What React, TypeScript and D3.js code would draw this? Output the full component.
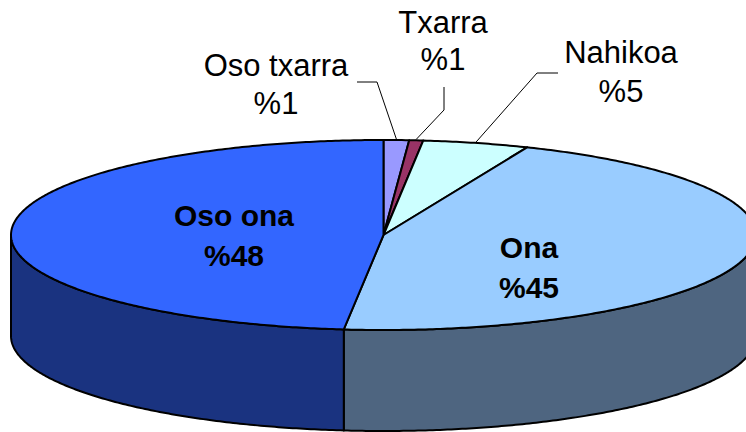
import React from 'react';
import * as d3 from 'd3';

// ---- data ----
const categories = ['Oso txarra', 'Txarra', 'Nahikoa', 'Ona', 'Oso ona'];
const values = [1.1, 0.6, 4.6, 45.4, 48.3];
const valueLabels = ['%1', '%1', '%5', '%45', '%48'];

// ---- styles / layout ----
const topColors = ['#9999FF', '#993366', '#CCFFFF', '#99CCFF', '#3366FF'];
const sideColors = ['#4C4C80', '#4C1933', '#668080', '#4E6580', '#1A3380'];
const W = 746, H = 432;
const cx = 383.5, cy = 235, rx = 372.5, ry = 95, depth = 101;

// label layout: center x, baseline y of first line, line gap, leader polyline start points
const labelLayout = [
  { x: 276, y: 76, gap: 38, bold: false, leader: [[357, 82], [377, 82]] },
  { x: 443, y: 33, gap: 37, bold: false, leader: [[444, 87], [444, 110]] },
  { x: 621, y: 63, gap: 39, bold: false, leader: [[558, 73], [537, 73]] },
  { x: 529, y: 258, gap: 40, bold: true, leader: null },
  { x: 234, y: 226, gap: 40, bold: true, leader: null },
];

const pt = (a: number, dy = 0): [number, number] => [cx + rx * Math.sin(a), cy - ry * Math.cos(a) + dy];

const arcPts = (a0: number, a1: number, dy = 0) => {
  const n = Math.max(2, Math.ceil(Math.abs(a1 - a0) / 0.01));
  return d3.range(n + 1).map((i) => pt(a0 + ((a1 - a0) * i) / n, dy));
};

const line = d3.line<[number, number]>();

export default function App() {
  const pie = d3.pie<number>().sort(null).startAngle(0).endAngle(2 * Math.PI);
  const arcs = pie(values);

  const sides = arcs
    .map((a, i) => {
      const s = Math.max(a.startAngle, Math.PI / 2);
      const e = Math.min(a.endAngle, (3 * Math.PI) / 2);
      if (e <= s) return null;
      const top = arcPts(s, e);
      const bottom = arcPts(e, s, depth);
      return { i, d: line([...top, ...bottom])! + 'Z' };
    })
    .filter(Boolean) as { i: number; d: string }[];

  const tops = arcs.map((a, i) => ({
    i,
    d: line([[cx, cy], ...arcPts(a.startAngle, a.endAngle)])! + 'Z',
  }));

  return (
    <svg
      width={W}
      height={H}
      style={{ position: 'absolute', left: 0, top: 0, background: '#fff' }}
      fontFamily="'Liberation Sans', Arial, sans-serif"
    >
      {sides.map((s) => (
        <path key={'s' + s.i} d={s.d} fill={sideColors[s.i]} stroke="#000" strokeWidth={2} strokeLinejoin="round" />
      ))}
      {tops.map((t) => (
        <path key={'t' + t.i} d={t.d} fill={topColors[t.i]} stroke="#000" strokeWidth={2} strokeLinejoin="round" />
      ))}
      {arcs.map((a, i) => {
        const L = labelLayout[i];
        const mid = (a.startAngle + a.endAngle) / 2;
        const anchor = pt(mid);
        return (
          <g key={'l' + i}>
            {L.leader && (
              <path
                d={line([...(L.leader as [number, number][]), [anchor[0], anchor[1] - 1]])!}
                fill="none"
                stroke="#000"
                strokeWidth={1}
              />
            )}
            <text
              x={L.x}
              y={L.y}
              textAnchor="middle"
              fontSize={L.bold ? 30 : 31}
              fontWeight={L.bold ? 'bold' : 'normal'}
              fill="#000"
            >
              {categories[i]}
            </text>
            <text
              x={L.x}
              y={L.y + L.gap}
              textAnchor="middle"
              fontSize={L.bold ? 30 : 31}
              fontWeight={L.bold ? 'bold' : 'normal'}
              fill="#000"
            >
              {valueLabels[i]}
            </text>
          </g>
        );
      })}
    </svg>
  );
}
